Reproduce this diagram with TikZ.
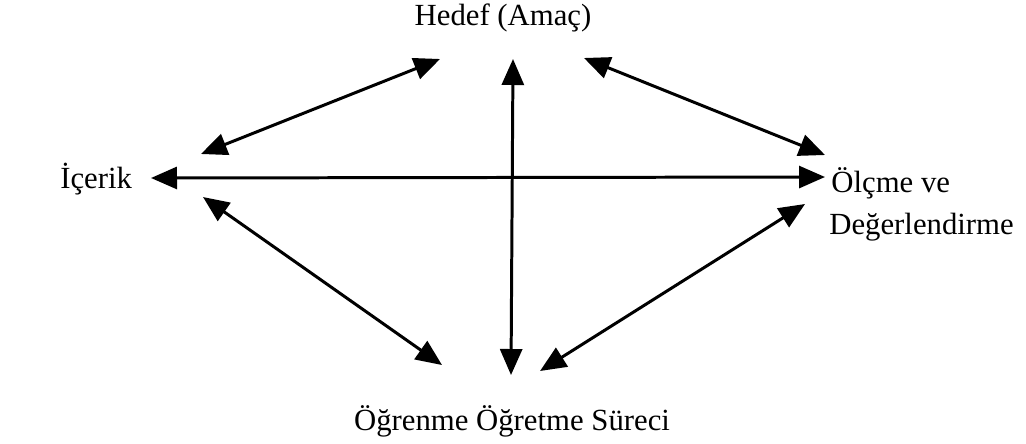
\documentclass[tikz,border=0pt]{standalone}
\usepackage{fontspec}
\setmainfont{Liberation Serif}
\usepackage{tikz}
\usetikzlibrary{arrows.meta}
\tikzset{
  curr-label/.style={font=\fontsize{17.5}{20}\selectfont, anchor=base, inner sep=0pt},
  curr-link/.style={{Triangle[length=0.52cm,width=0.44cm]}-{Triangle[length=0.52cm,width=0.44cm]}, line width=1.7pt}
}
\begin{document}
\begin{tikzpicture}[x=0.02cm, y=-0.02cm]
  \useasboundingbox (0,0) rectangle (1026,443);
  % labels
  \node[curr-label] (hedef) at (503,25) {Hedef (Amaç)};
  \node[curr-label, anchor=base west] (icerik) at (60,188) {İçerik};
  \node[curr-label, anchor=base west] (olcme) at (831,192) {Ölçme ve};
  \node[curr-label, anchor=base west] (degerl) at (829,234) {Değerlendirme};
  \node[curr-label] (surec) at (512,430) {Öğrenme Öğretme Süreci};
  % arrow ends
  \coordinate (h-l) at (440,59);
  \coordinate (h-m) at (513,59);
  \coordinate (h-r) at (584,58);
  \coordinate (i-u) at (201,154);
  \coordinate (i-m) at (151,178);
  \coordinate (i-d) at (203,197);
  \coordinate (o-u) at (825,155);
  \coordinate (o-m) at (825,177);
  \coordinate (o-d) at (805,204);
  \coordinate (s-l) at (442,365);
  \coordinate (s-m) at (511,375);
  \coordinate (s-r) at (540,371);
  % links
  \draw[curr-link] (i-u) -- (h-l);
  \draw[curr-link] (h-r) -- (o-u);
  \draw[curr-link] (i-m) -- (o-m);
  \draw[curr-link] (h-m) -- (s-m);
  \draw[curr-link] (i-d) -- (s-l);
  \draw[curr-link] (s-r) -- (o-d);
\end{tikzpicture}
\end{document}
